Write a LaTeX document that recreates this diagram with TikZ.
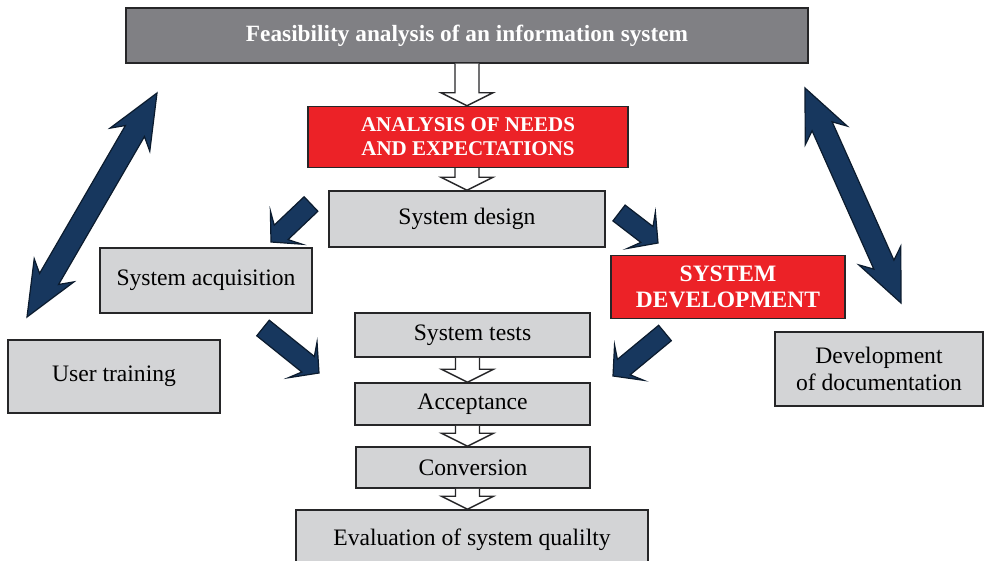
\documentclass[tikz,border=0pt]{standalone}
\usepackage{fontspec}
\setmainfont{Liberation Serif}
\usetikzlibrary{calc}
\definecolor{topgray}{HTML}{808084}
\definecolor{boxgray}{HTML}{D3D4D6}
\definecolor{redbox}{HTML}{EC2227}
\definecolor{navy}{HTML}{17375E}
\definecolor{navyedge}{HTML}{0B1B2E}
\definecolor{edge}{HTML}{262628}
\tikzset{
  box/.style={draw=edge, line width=1.5pt, fill=boxgray, inner sep=0pt, align=center,
    text=black, font=\fontsize{23.6}{27}\selectfont},
  redstyle/.style={box, fill=redbox, text=white, font=\fontsize{21}{24}\selectfont\bfseries},
  topstyle/.style={box, fill=topgray, text=white, font=\fontsize{23.3}{26}\selectfont\bfseries},
  hollow/.style={draw=edge, line width=1.4pt, fill=white, line join=miter},
  bluearrow/.style={draw=navyedge, line width=1.2pt, fill=navy, line join=miter},
}
% fat single arrow: #1 tail, #2 tip, #3 half shaft, #4 neck dist, #5 half head, #6 barb dist
\newcommand{\fatarrow}[6]{%
  \coordinate (fa-n) at ($(#2)!#4!(#1)$);
  \coordinate (fa-b) at ($(#2)!#6!(#1)$);
  \filldraw[bluearrow] ($(#1)!#3!90:(#2)$) -- ($(fa-n)!#3!90:(#2)$) -- ($(fa-b)!#5!90:(#2)$)
    -- (#2) -- ($(fa-b)!#5!-90:(#2)$) -- ($(fa-n)!#3!-90:(#2)$) -- ($(#1)!#3!-90:(#2)$) -- cycle;
}
% fat double arrow between #1 and #2
\newcommand{\fatdouble}[6]{%
  \coordinate (fd-n1) at ($(#1)!#4!(#2)$);
  \coordinate (fd-b1) at ($(#1)!#6!(#2)$);
  \coordinate (fd-n2) at ($(#2)!#4!(#1)$);
  \coordinate (fd-b2) at ($(#2)!#6!(#1)$);
  \filldraw[bluearrow] (#1) -- ($(fd-b1)!#5!90:(#2)$) -- ($(fd-n1)!#3!90:(#2)$)
    -- ($(fd-n2)!#3!-90:(#1)$) -- ($(fd-b2)!#5!-90:(#1)$) -- (#2)
    -- ($(fd-b2)!#5!90:(#1)$) -- ($(fd-n2)!#3!90:(#1)$)
    -- ($(fd-n1)!#3!-90:(#2)$) -- ($(fd-b1)!#5!-90:(#2)$) -- cycle;
}
% hollow vertical arrow from #1 (top point) to #2 (tip point)
\newcommand{\hollowarrow}[2]{%
  \filldraw[hollow] ($(#1)+(-12,0)$) -- ($(#2)+(-12,-13)$) -- ($(#2)+(-26,-13)$) -- (#2)
    -- ($(#2)+(26,-13)$) -- ($(#2)+(12,-13)$) -- ($(#1)+(12,0)$);
}
\begin{document}
\begin{tikzpicture}[x=1pt,y=-1pt]
\clip (0,0) rectangle (984,561);
\fill[white] (0,0) rectangle (984,561);

\node[topstyle, minimum width=682pt, minimum height=55pt] (top) at (467,35.5) {Feasibility analysis of an information system};
\node[redstyle, minimum width=320pt, minimum height=61pt] (needs) at (468,137) {ANALYSIS OF NEEDS\\AND EXPECTATIONS};
\node[box, minimum width=276pt, minimum height=56pt] (design) at (467,219) {System design};
\node[box, minimum width=212pt, minimum height=65pt] (acq) at (206,280.5) {System acquisition};
\node[redstyle, minimum width=234pt, minimum height=63pt, font=\fontsize{23.5}{26}\selectfont\bfseries] (dev) at (728,287) {SYSTEM\\DEVELOPMENT};
\node[box, minimum width=212pt, minimum height=73pt] (train) at (114,376.5) {User training};
\node[box, minimum width=208pt, minimum height=74pt] (doc) at (879,369) {Development\\of documentation};
\node[box, minimum width=235pt, minimum height=44pt] (tests) at (472.5,335) {System tests};
\node[box, minimum width=235pt, minimum height=42pt] (accept) at (472.5,404) {Acceptance};
\node[box, minimum width=234pt, minimum height=41pt] (conv) at (473,467.5) {Conversion};
\node[box, minimum width=352pt, minimum height=60pt] (eval) at (472,540) {Evaluation of system qualilty};

% hollow arrows
\coordinate (h1a) at (top.south -| 467,0);
\coordinate (h1b) at (needs.north -| 467,0);
\hollowarrow{h1a}{h1b}
\coordinate (h2a) at (needs.south -| 467,0);
\coordinate (h2b) at (design.north -| 467,0);
\hollowarrow{h2a}{h2b}
\coordinate (h3a) at (tests.south -| 467.5,0);
\coordinate (h3b) at (accept.north -| 467.5,0);
\hollowarrow{h3a}{h3b}
\coordinate (h4a) at (accept.south -| 467.5,0);
\coordinate (h4b) at (conv.north -| 467.5,0);
\hollowarrow{h4a}{h4b}
\coordinate (h5a) at (conv.south -| 467.5,0);
\coordinate (h5b) at (eval.north -| 467.5,0);
\hollowarrow{h5a}{h5b}

% blue arrows
\coordinate (la1) at (157,93);
\coordinate (la2) at (27,317);
\fatdouble{la1}{la2}{11pt}{44pt}{23pt}{54pt}
\coordinate (ra1) at (805,88);
\coordinate (ra2) at (901,303);
\fatdouble{ra1}{ra2}{11pt}{42pt}{23pt}{52pt}
\coordinate (s1a) at (311,204);
\coordinate (s1b) at (271,242);
\fatarrow{s1a}{s1b}{10pt}{14pt}{23pt}{21pt}
\coordinate (s2a) at (263,328);
\coordinate (s2b) at (319,373);
\fatarrow{s2a}{s2b}{10pt}{14pt}{23pt}{21pt}
\coordinate (s3a) at (619,213);
\coordinate (s3b) at (658,243);
\fatarrow{s3a}{s3b}{10pt}{14pt}{23pt}{21pt}
\coordinate (s4a) at (665,333);
\coordinate (s4b) at (613,376);
\fatarrow{s4a}{s4b}{10pt}{14pt}{23pt}{21pt}
\end{tikzpicture}
\end{document}
